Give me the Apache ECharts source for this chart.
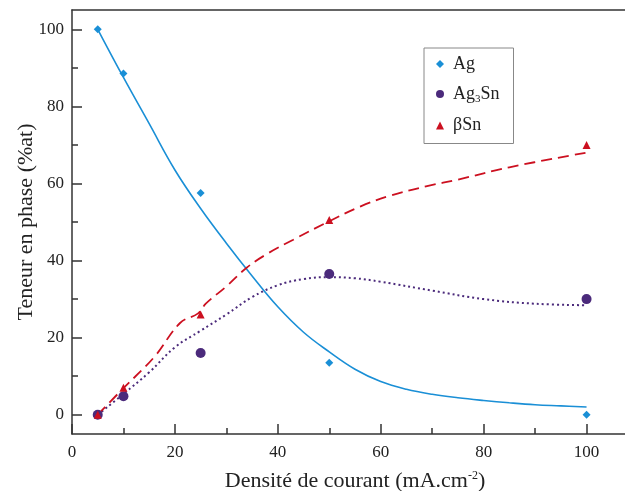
<!DOCTYPE html>
<html>
<head>
<meta charset="utf-8">
<script src="https://cdn.jsdelivr.net/npm/echarts@6/dist/echarts.min.js"></script>
<style>html,body{margin:0;padding:0;background:#fff}#c{width:625px;height:491px}</style>
</head>
<body>
<div id="c"></div>
<script>
// Measured points
const xPts = [5, 10, 25, 50, 100];
const agPts = [100, 88.5, 57.5, 13.5, 0];
const ag3snPts = [0, 4.8, 16, 36.5, 30];
const bsnPts = [0, 7, 26, 50.5, 70];

// Fitted curves
const agFitX = [5, 10, 15, 20, 25, 30, 35, 40, 45, 50, 55, 60, 65, 70, 75, 80, 85, 90, 95, 100];
const agFitY = [100, 87.5, 75.5, 63.5, 53.5, 44.5, 36, 28, 21.4, 16.3, 11.8, 8.6, 6.6, 5.3, 4.4, 3.7, 3.1, 2.6, 2.3, 2.0];
const ag3FitX = [5, 10, 15, 20, 25, 30, 35, 40, 45, 50, 55, 60, 70, 80, 90, 100];
const ag3FitY = [0, 5.4, 11, 17.5, 21.8, 26, 30.5, 33.6, 35.2, 35.7, 35.4, 34.5, 32.2, 30.0, 28.8, 28.4];
const bsnFitX = [5, 10, 16, 21, 24.5, 26, 30, 34, 38, 43, 50, 56, 62, 69, 75, 85, 100];
const bsnFitY = [0, 6.9, 15, 23.8, 26.3, 28.8, 33.3, 38.2, 41.8, 45.4, 50.2, 54, 56.9, 59.3, 61, 64.2, 68];

const xMajor = [0, 20, 40, 60, 80, 100];
const xMinor = [10, 30, 50, 70, 90];
const yMajor = [0, 20, 40, 60, 80, 100];
const yMinor = [10, 30, 50, 70, 90];

const zip = (xs, ys) => xs.map((x, i) => [x, ys[i]]);

const C_AG = '#1a8fd6', C_AG3 = '#4b2a7b', C_BSN = '#cc1020';
const FONT = 'Liberation Serif';
const AXC = '#333';

const chart = echarts.init(document.getElementById('c'), null, {renderer: 'canvas'});
const baseX = {type: 'value', min: 0, max: 110, gridIndex: 0, splitLine: {show: false}};
const baseY = {type: 'value', min: -5, max: 105, gridIndex: 0, splitLine: {show: false}};
chart.setOption({
  animation: false,
  backgroundColor: '#fff',
  grid: {left: 72, top: 10, width: 566, height: 424, containLabel: false, outerBoundsMode: 'none'},
  xAxis: [
    Object.assign({}, baseX, {
      position: 'bottom',
      axisLine: {show: true, onZero: false, lineStyle: {color: AXC, width: 1.5}},
      axisTick: {show: true, inside: true, length: 10, customValues: xMajor, lineStyle: {color: AXC, width: 1.5}},
      axisLabel: {show: true, customValues: xMajor, margin: 10, fontFamily: FONT, fontSize: 17, color: '#222'},
      name: 'Densité de courant (mA.cm{sup|-2})',
      nameLocation: 'middle', nameGap: 36, nameMoveOverlap: false,
      nameTextStyle: {fontFamily: FONT, fontSize: 22, color: '#222',
        rich: {sup: {fontFamily: FONT, fontSize: 12, color: '#222', verticalAlign: 'top', padding: [0, 0, 10, 0]}}}
    }),
    Object.assign({}, baseX, {
      position: 'bottom',
      axisLine: {show: false, onZero: false},
      axisTick: {show: true, inside: true, length: 6, customValues: xMinor, lineStyle: {color: AXC, width: 1.5}},
      axisLabel: {show: false}
    }),
    Object.assign({}, baseX, {
      position: 'top',
      axisLine: {show: true, onZero: false, lineStyle: {color: AXC, width: 1.5}},
      axisTick: {show: false}, axisLabel: {show: false}
    })
  ],
  yAxis: [
    Object.assign({}, baseY, {
      position: 'left',
      axisLine: {show: true, onZero: false, lineStyle: {color: AXC, width: 1.5}},
      axisTick: {show: true, inside: true, length: 10, customValues: yMajor, lineStyle: {color: AXC, width: 1.5}},
      axisLabel: {show: true, customValues: yMajor, margin: 8, fontFamily: FONT, fontSize: 17, color: '#222'},
      name: 'Teneur en phase (%at)',
      nameLocation: 'middle', nameGap: 35, nameMoveOverlap: false,
      nameTextStyle: {fontFamily: FONT, fontSize: 22, color: '#222'}
    }),
    Object.assign({}, baseY, {
      position: 'left',
      axisLine: {show: false, onZero: false},
      axisTick: {show: true, inside: true, length: 6, customValues: yMinor, lineStyle: {color: AXC, width: 1.5}},
      axisLabel: {show: false}
    })
  ],
  legend: {
    orient: 'vertical', left: 424, top: 48,
    data: ['Ag', 'Ag3Sn', 'βSn'],
    borderColor: '#888', borderWidth: 1, borderRadius: 0,
    padding: [7, 14, 9, 12],
    itemWidth: 8, itemHeight: 8, itemGap: 12,
    formatter: function (n) { return n === 'Ag3Sn' ? '{n|Ag}{s|3}{n|Sn}' : '{n|' + n + '}'; },
    textStyle: {fontFamily: FONT, fontSize: 18, color: '#222', padding: [0, 0, 0, 4],
      rich: {n: {fontFamily: FONT, fontSize: 18, color: '#222'},
             s: {fontFamily: FONT, fontSize: 11, color: '#222', verticalAlign: 'bottom', padding: [10, 0, 0, 0]}}}
  },
  series: [
    {name: 'Ag-fit', type: 'line', data: zip(agFitX, agFitY), smooth: 0.4, showSymbol: false, silent: true,
     lineStyle: {color: C_AG, width: 1.6, type: 'solid'}, z: 2},
    {name: 'Ag3Sn-fit', type: 'line', data: zip(ag3FitX, ag3FitY), smooth: 0.4, showSymbol: false, silent: true,
     lineStyle: {color: C_AG3, width: 2, type: [2, 3]}, z: 2},
    {name: 'βSn-fit', type: 'line', data: zip(bsnFitX, bsnFitY), smooth: 0.4, showSymbol: false, silent: true,
     lineStyle: {color: C_BSN, width: 1.8, type: [11, 6]}, z: 2},
    {name: 'Ag', type: 'scatter', data: zip(xPts, agPts), symbol: 'diamond', symbolSize: 8,
     itemStyle: {color: C_AG, opacity: 1}, z: 3},
    {name: 'Ag3Sn', type: 'scatter', data: zip(xPts, ag3snPts), symbol: 'circle', symbolSize: 10,
     itemStyle: {color: C_AG3, opacity: 1}, z: 3},
    {name: 'βSn', type: 'scatter', data: zip(xPts, bsnPts), symbol: 'triangle', symbolSize: 8,
     itemStyle: {color: C_BSN, opacity: 1}, z: 4}
  ]
});
</script>
</body>
</html>
